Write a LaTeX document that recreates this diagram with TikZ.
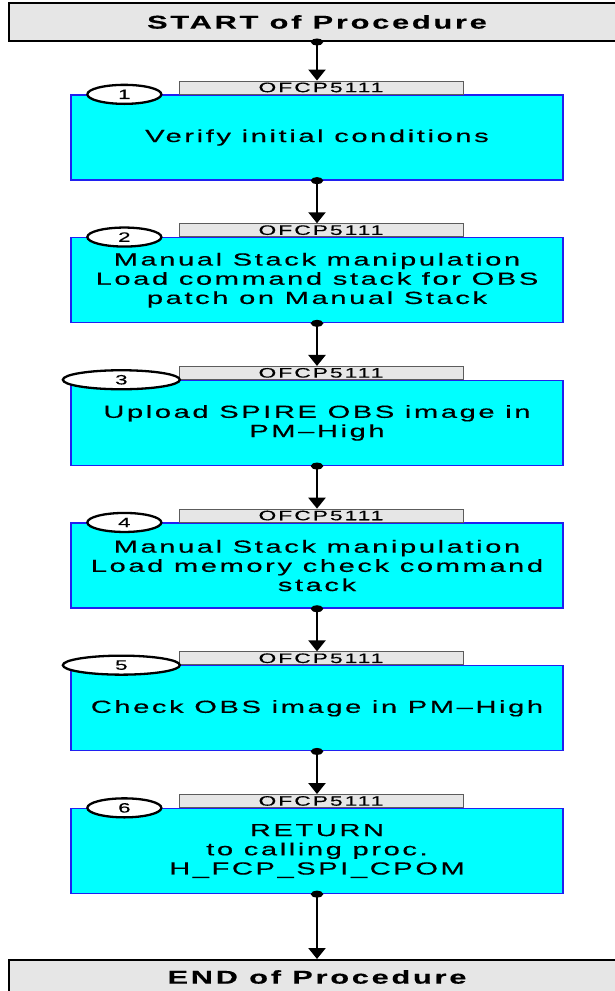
\documentclass[tikz,border=0pt]{standalone}
\usepackage{fontspec}
\setmainfont{Liberation Sans}
\newfontfamily\widefont{Liberation Sans}[FakeStretch=1.66,LetterSpace=15,FakeBold=0.4]
\usetikzlibrary{arrows.meta,positioning,shapes.geometric}
\definecolor{aqua}{HTML}{00FFFF}
\definecolor{rim}{HTML}{2020F0}
\definecolor{pale}{HTML}{E6E6E6}
\definecolor{tabline}{HTML}{5C5C5C}
\tikzset{>=Latex,
  endbox/.style={draw=black,line width=2pt,fill=pale,minimum width=616pt,minimum height=38pt,inner sep=0pt,font=\widefont\bfseries\fontsize{18.5}{20}\selectfont},
  stepbox/.style={draw=rim,line width=1.3pt,fill=aqua,minimum width=492pt,minimum height=85pt,inner sep=0pt,align=center,font=\widefont\fontsize{17.5}{19.2}\selectfont},
  tabbox/.style={draw=tabline,line width=.8pt,fill=pale,minimum width=284pt,minimum height=13pt,inner sep=0pt,font=\widefont\fontsize{13.7}{13}\selectfont},
  numoval/.style={ellipse,draw=black,line width=2.3pt,fill=white,minimum height=19pt,inner sep=0pt,font=\widefont\fontsize{13.5}{12}\selectfont},
  flow/.style={line width=2.4pt,{Ellipse[width=12pt,length=7pt]}-{Triangle[width=17pt,length=11pt]},shorten <=-3.5pt}}
\begin{document}
\begin{tikzpicture}[x=1pt,y=-1pt]
\useasboundingbox (0,0) rectangle (614,991);
\node[endbox] (start) at (317,22) {START of Procedure};
\node[endbox,minimum height=34pt] (stop) at (317,977) {END of Procedure};
% the six steps
\foreach \i/\ow/\ox/\txt in {1/74/54/{Verify initial conditions},
    2/74/54/{Manual Stack manipulation\\Load command stack for OBS\\patch on Manual Stack},
    3/117/51/{Upload SPIRE OBS image in\\PM–High},
    4/74/54/{Manual Stack manipulation\\Load memory check command\\stack},
    5/117/51/{Check OBS image in PM–High},
    6/74/54/{RETURN\\to calling proc.\\H\_FCP\_SPI\_CPOM}}{
  \node[stepbox] (step\i) at (317,{137.5+142.7*(\i-1)}) {\txt};
  \node[tabbox,above=0pt of step\i,xshift=4pt] (tab\i) {OFCP5111};
  \node[numoval,minimum width=\ow pt] (num\i) at ([xshift=\ox pt]step\i.north west) {\i};
}
\draw[flow] (start.south -| step1.south) -- (tab1.north -| step1.south);
\foreach \i [evaluate=\i as \j using int(\i+1)] in {1,...,5}
  \draw[flow] (step\i.south) -- (tab\j.north -| step\i.south);
\draw[flow] (step6.south) -- (stop.north -| step6.south);
\end{tikzpicture}
\end{document}
